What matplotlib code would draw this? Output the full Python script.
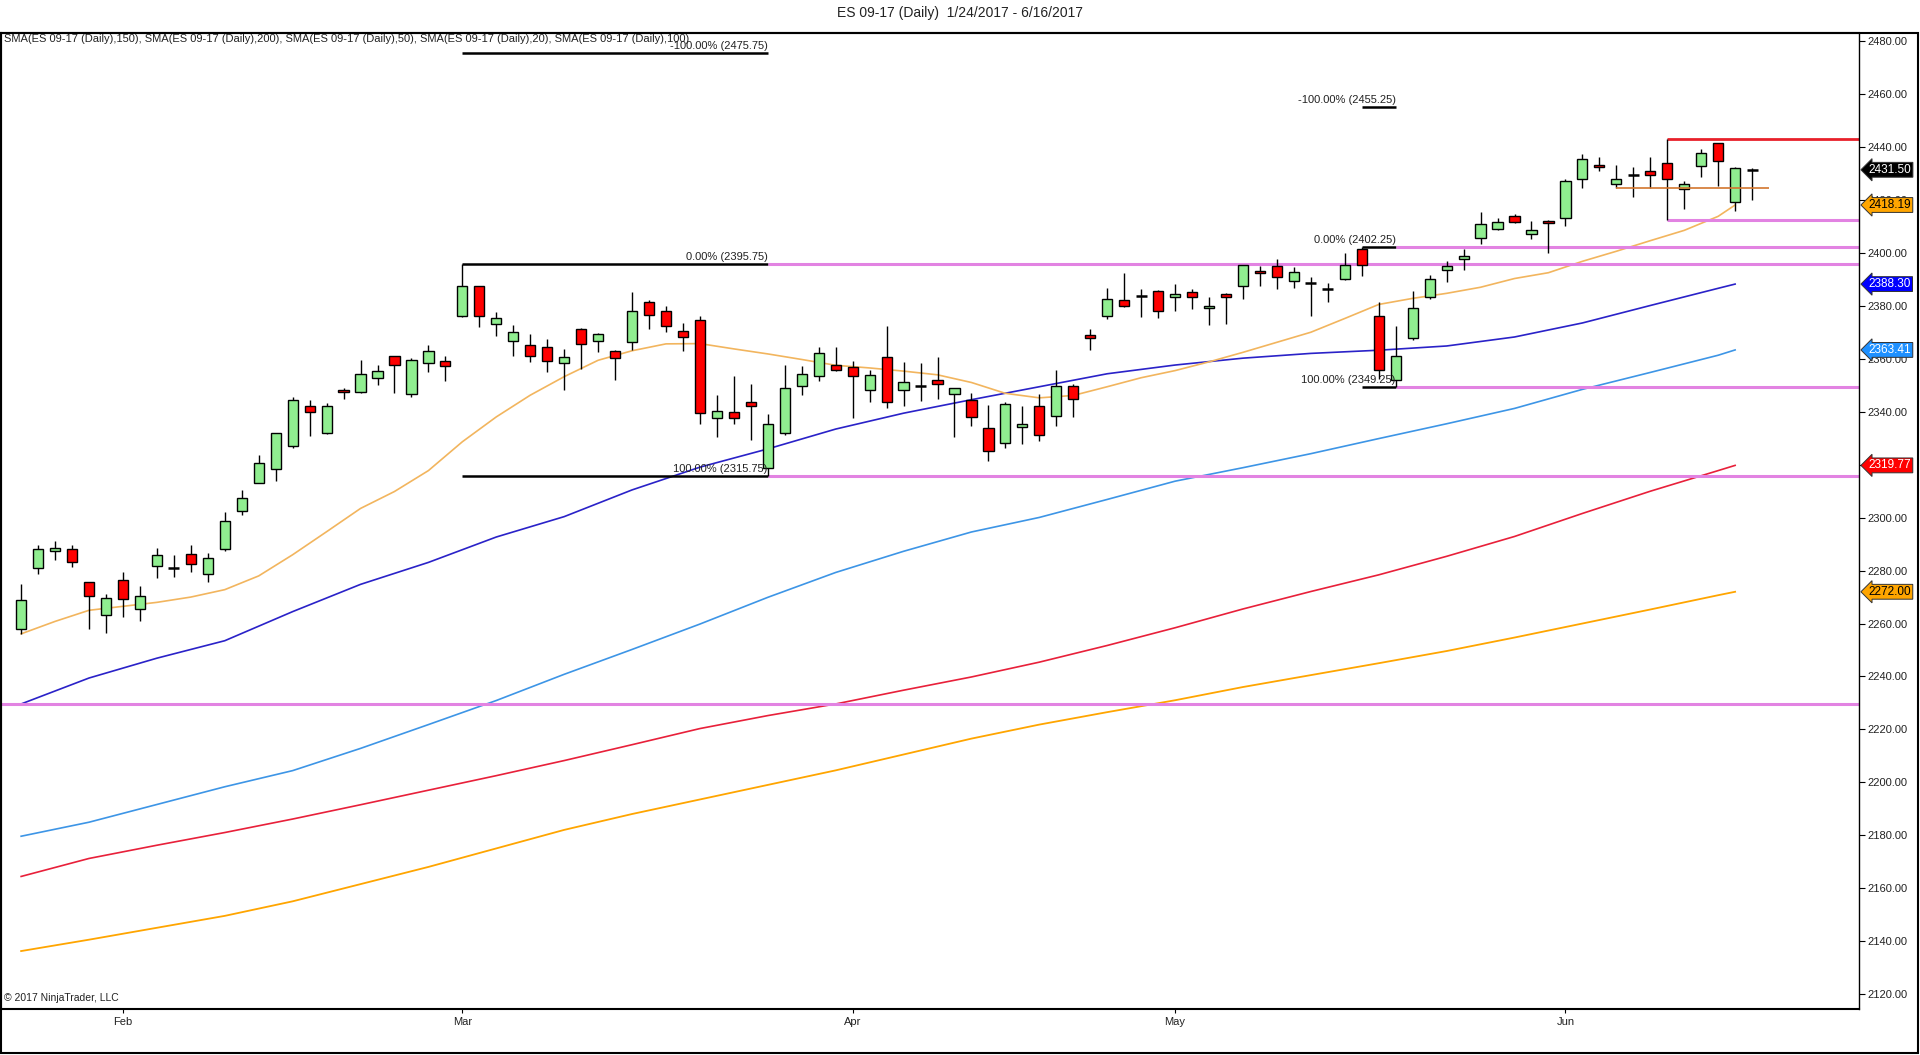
import matplotlib
matplotlib.use('Agg')
import matplotlib.pyplot as plt
from matplotlib.patches import Rectangle
from matplotlib.ticker import FormatStrFormatter
import numpy as np
import pandas as pd

plt.rcParams['font.family'] = ['Liberation Sans', 'DejaVu Sans']

# daily sessions on the chart (Good Friday closed, Presidents' / Memorial Day sessions kept)
dates = pd.bdate_range('2017-01-24', '2017-06-16').drop(pd.Timestamp('2017-04-14'))

opens = [2257.8, 2280.9, 2287.4, 2288.0, 2275.6, 2263.1, 2276.3, 2265.3, 2281.6, 2281.1,
         2286.4, 2278.6, 2288.0, 2302.4, 2313.3, 2318.3, 2327.2, 2342.4, 2332.1, 2348.1,
         2347.4, 2352.7, 2361.0, 2346.6, 2358.3, 2359.1, 2376.1, 2387.4, 2373.1, 2366.6,
         2365.1, 2364.4, 2358.3, 2371.2, 2366.6, 2362.9, 2366.3, 2381.4, 2378.0, 2370.4,
         2374.6, 2337.5, 2339.8, 2343.6, 2318.6, 2332.2, 2349.6, 2353.4, 2357.6, 2356.8,
         2348.1, 2360.6, 2348.1, 2349.6, 2351.9, 2346.6, 2344.3, 2333.8, 2328.1, 2334.1,
         2342.4, 2338.3, 2349.6, 2368.9, 2376.1, 2382.1, 2383.7, 2385.5, 2383.6, 2385.2,
         2379.1, 2384.4, 2387.4, 2393.1, 2395.0, 2389.3, 2388.7, 2386.3, 2390.1, 2401.4,
         2376.1, 2351.9, 2367.8, 2383.6, 2393.8, 2397.6, 2405.9, 2409.3, 2413.9, 2407.1,
         2412.0, 2413.1, 2427.9, 2433.2, 2426.3, 2429.4, 2430.9, 2433.9, 2424.1, 2432.8,
         2441.5, 2419.2, 2431.5]
highs = [2274.9, 2289.7, 2291.2, 2289.7, 2275.8, 2271.0, 2279.3, 2274.2, 2288.4, 2285.8,
         2289.5, 2286.5, 2302.0, 2310.3, 2323.6, 2332.2, 2345.5, 2344.3, 2343.2, 2349.0,
         2359.6, 2357.6, 2361.3, 2360.2, 2365.1, 2361.3, 2395.75, 2387.6, 2377.6, 2372.7,
         2369.3, 2367.4, 2363.6, 2371.7, 2369.8, 2363.2, 2385.2, 2382.3, 2379.9, 2373.4,
         2376.1, 2346.2, 2353.4, 2350.4, 2339.2, 2357.9, 2357.2, 2364.4, 2364.4, 2359.1,
         2356.0, 2372.3, 2358.8, 2358.3, 2360.6, 2349.2, 2347.0, 2342.6, 2343.6, 2342.2,
         2346.6, 2355.7, 2350.4, 2371.5, 2386.7, 2392.5, 2386.4, 2385.9, 2388.2, 2386.3,
         2383.6, 2384.8, 2395.6, 2395.0, 2397.8, 2394.6, 2390.8, 2388.6, 2400.0, 2402.25,
         2381.4, 2372.6, 2385.5, 2391.6, 2396.9, 2401.4, 2415.4, 2413.1, 2414.6, 2412.0,
         2412.7, 2427.9, 2437.3, 2436.5, 2433.2, 2432.4, 2436.5, 2443.25, 2427.1, 2439.2,
         2441.8, 2432.4, 2432.0]
lows = [2256.0, 2278.6, 2284.0, 2281.5, 2257.8, 2256.5, 2262.6, 2261.1, 2277.3, 2277.7,
        2279.6, 2275.6, 2287.3, 2301.1, 2313.0, 2314.0, 2326.4, 2331.0, 2331.7, 2345.0,
        2347.0, 2350.1, 2347.2, 2345.7, 2355.2, 2351.8, 2375.7, 2372.2, 2368.8, 2361.2,
        2359.0, 2355.2, 2348.4, 2356.3, 2362.7, 2352.1, 2363.2, 2371.2, 2370.3, 2362.9,
        2335.6, 2330.4, 2335.6, 2329.2, 2315.75, 2331.1, 2346.2, 2351.5, 2355.3, 2337.5,
        2343.8, 2341.6, 2342.3, 2344.2, 2345.0, 2330.6, 2334.8, 2321.3, 2326.2, 2327.7,
        2328.8, 2334.8, 2337.9, 2363.2, 2375.0, 2379.5, 2376.0, 2375.6, 2378.2, 2379.0,
        2372.9, 2373.3, 2382.5, 2387.4, 2386.3, 2386.7, 2376.3, 2381.6, 2389.8, 2391.2,
        2352.3, 2349.25, 2367.0, 2382.5, 2389.2, 2393.5, 2403.5, 2408.6, 2411.4, 2405.4,
        2400.1, 2410.1, 2424.5, 2430.9, 2424.5, 2421.4, 2424.5, 2412.5, 2416.5, 2428.6,
        2425.5, 2416.1, 2419.9]
closes = [2268.9, 2288.0, 2288.4, 2283.1, 2270.5, 2269.5, 2269.1, 2270.3, 2285.8, 2281.1,
          2282.4, 2284.6, 2298.6, 2307.3, 2320.8, 2331.9, 2344.3, 2340.0, 2342.1, 2347.4,
          2354.2, 2355.3, 2357.6, 2359.5, 2362.9, 2357.2, 2387.4, 2376.1, 2375.3, 2370.0,
          2361.0, 2359.1, 2360.6, 2365.8, 2369.3, 2360.2, 2378.0, 2376.8, 2372.3, 2368.2,
          2339.4, 2340.4, 2337.5, 2342.1, 2335.6, 2348.9, 2354.5, 2362.1, 2356.0, 2353.4,
          2353.8, 2343.9, 2351.1, 2349.6, 2350.4, 2348.9, 2337.9, 2325.1, 2342.8, 2335.3,
          2331.1, 2349.6, 2344.7, 2367.8, 2382.5, 2380.2, 2383.7, 2378.0, 2384.4, 2383.6,
          2380.2, 2383.3, 2395.4, 2392.3, 2390.8, 2392.7, 2388.7, 2386.3, 2395.4, 2395.4,
          2355.7, 2361.0, 2379.1, 2390.1, 2395.0, 2399.1, 2410.9, 2411.6, 2411.6, 2408.6,
          2411.2, 2427.1, 2435.4, 2432.4, 2428.2, 2429.4, 2429.7, 2428.2, 2426.3, 2437.7,
          2435.0, 2432.0, 2431.5]

# moving averages (slow ones every 4th session, SMA20 every 2nd)
slow_days = list(range(0, 101, 4)) + [101]
fast_days = list(range(0, 101, 2)) + [101]
sma200 = [2136.2, 2140.5, 2145.0, 2149.5, 2155.0, 2161.5, 2168.0, 2175.0, 2182.0, 2188.0,
          2193.5, 2199.0, 2204.5, 2210.5, 2216.5, 2221.8, 2226.5, 2231.0, 2236.0, 2240.5,
          2245.0, 2249.6, 2254.7, 2260.0, 2265.3, 2270.7, 2272.00]
sma150 = [2164.4, 2171.2, 2176.2, 2181.0, 2186.1, 2191.5, 2197.0, 2202.5, 2208.2, 2214.2,
          2220.3, 2225.2, 2229.6, 2234.8, 2239.8, 2245.4, 2251.7, 2258.4, 2265.5, 2272.1,
          2278.4, 2285.4, 2292.9, 2301.6, 2310.0, 2317.8, 2319.77]
sma100 = [2179.6, 2184.9, 2191.6, 2198.3, 2204.4, 2212.8, 2221.8, 2230.9, 2240.8, 2250.2,
          2259.8, 2269.9, 2279.3, 2287.3, 2294.6, 2300.1, 2306.9, 2313.8, 2318.9, 2324.2,
          2329.9, 2335.5, 2341.3, 2348.5, 2354.9, 2361.4, 2363.41]
sma50 = [2229.6, 2239.4, 2246.9, 2253.5, 2264.5, 2274.8, 2283.1, 2292.7, 2300.4, 2310.5,
         2319.1, 2326.0, 2333.5, 2339.5, 2344.6, 2349.5, 2354.4, 2357.7, 2360.3, 2362.1,
         2363.3, 2364.9, 2368.3, 2373.6, 2380.2, 2386.7, 2388.30]
sma20 = [2256.1, 2260.8, 2265.0, 2266.5, 2268.0, 2270.0, 2272.8, 2278.0, 2286.0, 2294.7,
         2303.5, 2309.9, 2317.8, 2328.7, 2338.1, 2346.3, 2353.3, 2359.5, 2363.1, 2365.7,
         2365.8, 2363.8, 2361.9, 2359.8, 2357.6, 2356.6, 2355.4, 2354.0, 2351.1, 2347.0,
         2345.3, 2346.2, 2349.5, 2352.9, 2355.6, 2358.9, 2362.5, 2366.3, 2370.1, 2375.3,
         2380.6, 2382.9, 2384.8, 2387.1, 2390.4, 2392.6, 2396.9, 2400.7, 2404.7, 2408.6,
         2413.9, 2418.19]

# drawing objects
fib1_days = ('2017-03-01', '2017-03-27')
fib1_levels = [(2475.75, '-100.00%'), (2395.75, '0.00%'), (2315.75, '100.00%')]
fib2_days = ('2017-05-16', '2017-05-18')
fib2_levels = [(2455.25, '-100.00%'), (2402.25, '0.00%'), (2349.25, '100.00%')]
support_line = 2229.5
range_day = '2017-06-09'
range_high, range_low = 2443.25, 2412.5
pivot_day = '2017-06-06'
pivot_level = 2424.5

title = 'ES 09-17 (Daily)  1/24/2017 - 6/16/2017'
legend_text = ('SMA(ES 09-17 (Daily),150), SMA(ES 09-17 (Daily),200), SMA(ES 09-17 (Daily),50), '
               'SMA(ES 09-17 (Daily),20), SMA(ES 09-17 (Daily),100)')

MAGENTA = '#E283E2'

fig = plt.figure(figsize=(19.2, 10.55), dpi=100)
ax = fig.add_axes([0.0004, 1 - 1009 / 1055, 1859 / 1920 - 0.0004, 976 / 1055])
xmin, xmax = -1.2, 108.3
ax.set_xlim(xmin, xmax)
ax.set_ylim(2114.3, 2483.2)

x = np.arange(len(dates))
o, h, l, c = map(np.array, (opens, highs, lows, closes))


def pos(day):
    return dates.get_loc(pd.Timestamp(day))


# moving averages
ax.plot(slow_days, sma200, color='#FFA500', lw=1.3, zorder=1.5)
ax.plot(slow_days, sma150, color='#E8203A', lw=1.2, zorder=1.5)
ax.plot(slow_days, sma100, color='#3D95E6', lw=1.2, zorder=1.5)
ax.plot(slow_days, sma50, color='#2A22C8', lw=1.2, zorder=1.5)
ax.plot(fast_days, sma20, color='#F2B55E', lw=1.2, zorder=1.5)

# horizontal drawings
ax.hlines(support_line, xmin, xmax, color=MAGENTA, lw=2.2, zorder=2)
for days, levels in ((fib1_days, fib1_levels), (fib2_days, fib2_levels)):
    i0, i1 = pos(days[0]), pos(days[1])
    for lv, pct in levels:
        ax.hlines(lv, i0, i1, color='black', lw=1.8, zorder=2)
        ax.annotate(f'{pct} ({lv:.2f})', xy=(i1, lv), xytext=(0, 1.5),
                    textcoords='offset points', ha='right', va='bottom',
                    fontsize=8, color='#222222', zorder=5)
        if pct != '-100.00%':
            ax.hlines(lv, i1, xmax, color=MAGENTA, lw=2.2, zorder=2)

ri = pos(range_day)
ax.hlines(range_high, ri, xmax, color='#E8202A', lw=2.0, zorder=2)
ax.hlines(range_low, ri, xmax, color=MAGENTA, lw=2.2, zorder=2)
ax.hlines(pivot_level, pos(pivot_day), len(dates), color='#D2762E', lw=1.2, zorder=4.5)

# candles
up = c > o
down = c < o
flat = ~(up | down)
ax.vlines(x, l, h, color='black', lw=1.0, zorder=3)
ax.bar(x[up], (c - o)[up], bottom=o[up], width=0.6, color='#90EE90',
       edgecolor='black', linewidth=1.0, zorder=4)
ax.bar(x[down], (o - c)[down], bottom=c[down], width=0.6, color='#FF0000',
       edgecolor='black', linewidth=1.0, zorder=4)
ax.hlines(o[flat], x[flat] - 0.32, x[flat] + 0.32, color='black', lw=1.8, zorder=4)

# axes styling
ax.yaxis.tick_right()
ax.set_yticks(np.arange(2120, 2481, 20))
ax.yaxis.set_major_formatter(FormatStrFormatter('%.2f'))
ax.tick_params(axis='y', direction='out', length=4.5, width=0.8, pad=1.5,
               labelsize=8, labelcolor='#222222')
months = dates.month
tick_pos = [i for i in range(1, len(dates)) if months[i] != months[i - 1]]
ax.set_xticks(tick_pos)
ax.set_xticklabels([dates[i].strftime('%b') for i in tick_pos])
ax.tick_params(axis='x', direction='out', length=3, width=0.8, pad=3,
               labelsize=8, labelcolor='#222222')
for side in ('left', 'top', 'bottom'):
    ax.spines[side].set_linewidth(1.5)
ax.spines['right'].set_linewidth(1.0)

# price markers on the axis
markers = [(closes[-1], 'black', 'white'), (sma20[-1], '#FFA500', 'black'),
           (sma50[-1], '#0000FF', 'white'), (sma100[-1], '#1E90FF', 'white'),
           (sma150[-1], '#FF0000', 'white'), (sma200[-1], '#FFA500', 'black')]
for val, fc, tc in markers:
    ax.annotate(f'{val:.2f}', xy=(1, val), xycoords=('axes fraction', 'data'),
                xytext=(7, 0), textcoords='offset points', ha='left', va='center',
                fontsize=8.5, color=tc, annotation_clip=False, zorder=6,
                bbox=dict(boxstyle='larrow,pad=0.12', fc=fc, ec='#333333', lw=0.7))

ax.text(0.0016, 0.9938, legend_text, transform=ax.transAxes, ha='left', va='center',
        fontsize=8, color='#222222')
ax.text(0.0016, 0.006, '\u00a9 2017 NinjaTrader, LLC', transform=ax.transAxes,
        ha='left', va='bottom', fontsize=7.5, color='#222222')
fig.text(0.5, 1 - 13 / 1055, title, ha='center', va='center', fontsize=10, color='#222222')

fig.add_artist(Rectangle((0.5 / 1920, 2 / 1055), 1917 / 1920, 1020 / 1055,
                         transform=fig.transFigure, fill=False, lw=1.5, ec='black'))

fig.savefig('out.png', dpi=100, facecolor='white')
